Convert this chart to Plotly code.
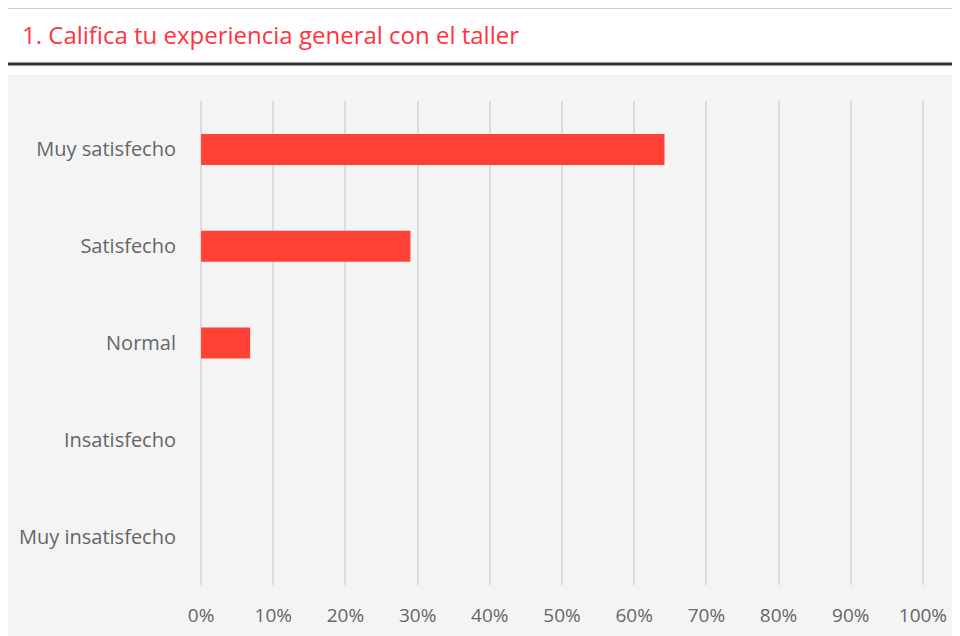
import plotly.graph_objects as go

categories = ["Muy satisfecho", "Satisfecho", "Normal", "Insatisfecho", "Muy insatisfecho"]
values = [64.2, 29.0, 6.8, 0, 0]
tick_vals = [0, 10, 20, 30, 40, 50, 60, 70, 80, 90, 100]
tick_text = ["0%", "10%", "20%", "30%", "40%", "50%", "60%", "70%", "80%", "90%", "100%"]
title_text = "1. Califica tu experiencia general con el taller"

# page is offset by 8px body margin
W, H = 952, 628
fig = go.Figure(go.Bar(
    y=categories, x=values, orientation="h",
    marker=dict(color="#ff4136", line=dict(width=0)),
    width=0.32,
))

PL, PR = 199.9, 924.1


def px(p):
    return (p - PL) / (PR - PL)


def py(p):
    return (585 - p) / 484


fig.update_layout(
    width=W, height=H,
    margin=dict(l=PL - 8, r=W - (PR - 8), t=93, b=51, autoexpand=False),
    paper_bgcolor="white",
    plot_bgcolor="rgba(0,0,0,0)",
    showlegend=False,
    font=dict(family="Open Sans", color="#666666", size=16),
    xaxis=dict(range=[-0.15, 100.15], tickvals=tick_vals, ticktext=tick_text,
               showgrid=True, gridcolor="#dcdcdc", gridwidth=2, automargin=False,
               zeroline=False, showline=False, ticks="", ticklabelstandoff=17,
               tickfont=dict(size=19, color="#666666")),
    yaxis=dict(autorange="reversed", showgrid=False, zeroline=False, automargin=False,
               showline=False, ticks="", ticklabelstandoff=23,
               tickfont=dict(size=20, color="#666666")),
    shapes=[
        dict(type="rect", xref="paper", yref="paper",
             x0=px(7), x1=px(962), y0=py(640), y1=py(75),
             fillcolor="#f4f4f4", line=dict(width=0), layer="below"),
        dict(type="line", xref="paper", yref="paper",
             x0=px(7), x1=px(962), y0=py(8), y1=py(8),
             line=dict(color="#cccccc", width=2)),
        dict(type="line", xref="paper", yref="paper",
             x0=px(7), x1=px(962), y0=py(64), y1=py(64),
             line=dict(color="#333333", width=3)),
    ],
    annotations=[
        dict(text=title_text, xref="paper", yref="paper",
             x=px(20), y=py(35),
             xanchor="left", yanchor="middle", showarrow=False,
             font=dict(family="Open Sans", size=24, color="#ff3340")),
    ],
)

fig.write_html("out.html")
